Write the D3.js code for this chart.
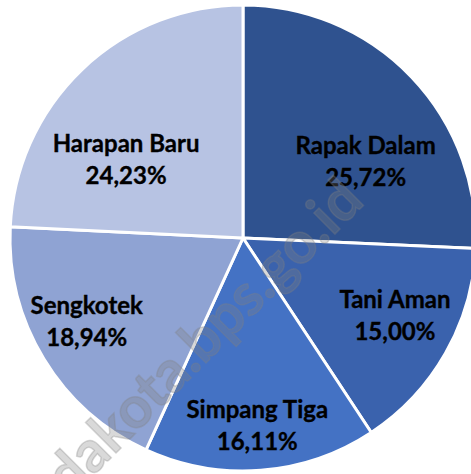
<!DOCTYPE html>
<html>
<head>
<meta charset="utf-8">
<script src="https://cdn.jsdelivr.net/npm/d3@7"></script>
<style>
  html, body { margin: 0; padding: 0; background: #fff; }
  svg { display: block; }
  .label { font-family: Lato, "Open Sans", sans-serif; font-weight: bold; font-size: 24px; fill: #000; stroke: #000; stroke-width: 0.35px; }
  .mark { font-family: Lato, sans-serif; font-weight: bold; font-size: 58px; fill: #808080; fill-opacity: 0.3; stroke: #808080; stroke-opacity: 0.3; stroke-width: 1.5px; }
</style>
</head>
<body>
<svg width="471" height="474"></svg>
<script>

var kelurahan = ["Rapak Dalam", "Tani Aman", "Simpang Tiga", "Sengkotek", "Harapan Baru"],
    persen = [25.72, 15.00, 16.11, 18.94, 24.23],
    warna = ["#2f528f", "#3a62ad", "#4472c4", "#8fa3d3", "#b7c3e3"];

// excel nudges the labels a bit off the centroid
var geser = [[-2, 43], [2, -7], [1, 16], [-9, -6], [2, 47]];

var formatPersen = function(d) { return d.toFixed(2).replace(".", ",") + "%"; };

var width = 471, height = 474,
    cx = 243, cy = 238,
    radius = 233;

var svg = d3.select("svg");
var g = svg.append("g").attr("transform", "translate(" + cx + "," + cy + ")");

var pie = d3.pie()
    .sort(null)
    .value(function(d) { return d; });

var arc = d3.arc()
    .innerRadius(0)
    .outerRadius(radius);

var labelArc = d3.arc()
    .innerRadius(radius * 0.74)
    .outerRadius(radius * 0.74);

var arcs = pie(persen);

g.selectAll("path")
  .data(arcs)
  .enter().append("path")
    .attr("d", arc)
    .attr("fill", function(d, i) { return warna[i]; })
    .attr("stroke", "#fff")
    .attr("stroke-width", 3)
    .attr("stroke-linejoin", "round");

// watermark
svg.append("text")
    .attr("class", "mark")
    .attr("text-anchor", "end")
    .attr("transform", "translate(366,203) rotate(-45)")
    .text("samarindakota.bps.go.id");

var label = g.selectAll(".label")
  .data(arcs)
  .enter().append("text")
    .attr("class", "label")
    .attr("text-anchor", "middle")
    .attr("transform", function(d, i) {
      var c = labelArc.centroid(d);
      return "translate(" + (c[0] + geser[i][0]) + "," + (c[1] + geser[i][1]) + ")";
    });

label.append("tspan")
    .attr("x", 0)
    .attr("y", -8)
    .text(function(d, i) { return kelurahan[i]; });

label.append("tspan")
    .attr("x", 0)
    .attr("y", 24)
    .text(function(d) { return formatPersen(d.data); });

</script>
</body>
</html>
